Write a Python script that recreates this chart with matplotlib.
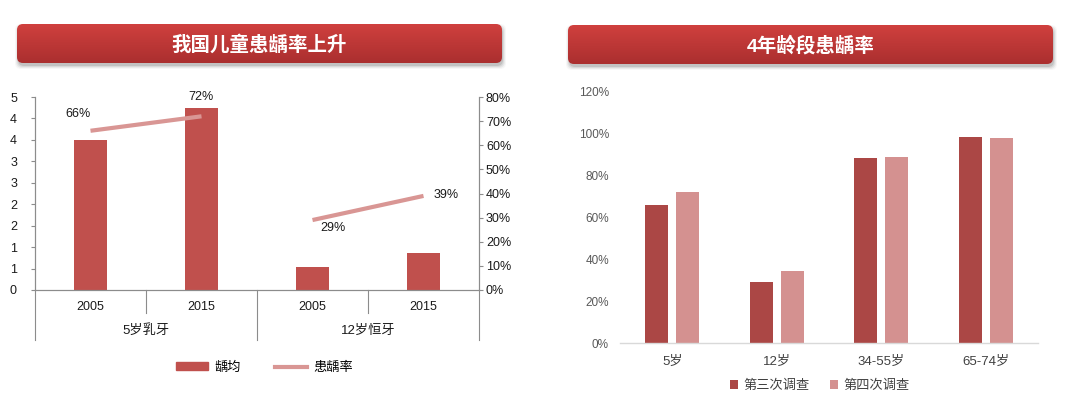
import numpy as np
import matplotlib
matplotlib.use("Agg")
import matplotlib.pyplot as plt
import matplotlib.transforms as mtransforms
from matplotlib.patches import FancyBboxPatch, Patch
from matplotlib.lines import Line2D
from matplotlib.ticker import FuncFormatter

plt.rcParams['font.family'] = ['Liberation Sans', 'Noto Sans CJK SC']

# ---- left chart data ----
left_title = "我国儿童患龋率上升"
years = ["2005", "2015", "2005", "2015"]
groups = ["5岁乳牙", "12岁恒牙"]
dmft = [3.5, 4.24, 0.54, 0.86]            # 龋均
caries_rate = [0.66, 0.72, 0.29, 0.39]     # 患龋率
rate_labels = ["66%", "72%", "29%", "39%"]
left_yticks = [0, 0.5, 1, 1.5, 2, 2.5, 3, 3.5, 4, 4.5]
left_yticklabels = ["0", "1", "1", "2", "2", "3", "3", "4", "4", "5"]
rate_yticks = [0, 0.1, 0.2, 0.3, 0.4, 0.5, 0.6, 0.7, 0.8]
left_legend = ["龋均", "患龋率"]

# ---- right chart data ----
right_title = "4年龄段患龋率"
ages = ["5岁", "12岁", "34-55岁", "65-74岁"]
third_survey = [0.66, 0.293, 0.883, 0.986]
fourth_survey = [0.723, 0.346, 0.891, 0.98]
survey_names = ["第三次调查", "第四次调查"]
right_yticks = [0, 0.2, 0.4, 0.6, 0.8, 1.0, 1.2]

W, H = 1080, 397
bar_red = '#C0504D'
line_pink = '#D99694'
dark_red = '#AB4745'
light_red = '#D49190'
axis_gray = '#8C8C8C'

fig = plt.figure(figsize=(W / 100, H / 100), dpi=100)


def px_axes(x0, y0, x1, y1):
    # axes rectangle given in pixel coords (y from top)
    return fig.add_axes([x0 / W, 1 - y1 / H, (x1 - x0) / W, (y1 - y0) / H])


def banner(x0, y0, x1, y1, text):
    m = 8
    bax = px_axes(x0 - m, y0 - m, x1 + m, y1 + m)
    bax.set_xlim(x0 - m, x1 + m)
    bax.set_ylim(y1 + m, y0 - m)
    bax.axis('off')
    w, h = x1 - x0, y1 - y0
    # soft shadow
    for grow, a in [(3, 0.03), (2, 0.05), (1, 0.07), (0, 0.1)]:
        sh = FancyBboxPatch((x0 + 1 - grow, y0 + 3 - grow), w + 2 * grow, h + 2 * grow,
                            boxstyle="round,pad=0,rounding_size=6",
                            fc='black', ec='none', alpha=a, zorder=1)
        bax.add_patch(sh)
    box = FancyBboxPatch((x0, y0), w, h, boxstyle="round,pad=0,rounding_size=6",
                         fc='none', ec='none')
    bax.add_patch(box)
    top = np.array([208, 64, 62]) / 255
    bot = np.array([170, 47, 47]) / 255
    t = np.linspace(0, 1, 64)[:, None, None]
    grad = top * (1 - t) + bot * t
    im = bax.imshow(grad, extent=(x0, x1, y1, y0), aspect='auto', origin='upper',
                    interpolation='bilinear', zorder=2)
    im.set_clip_path(box)
    bax.set_xlim(x0 - m, x1 + m)
    bax.set_ylim(y1 + m, y0 - m)
    bax.text((x0 + x1) / 2, (y0 + y1) / 2 + 1, text, color='white', fontsize=14,
             fontweight='bold', ha='center', va='center', zorder=3)


banner(17, 24, 502, 63, left_title)
banner(568, 25, 1053, 64, right_title)

# ---------------- left chart ----------------
ax = px_axes(35, 97, 479, 290)
x = np.arange(len(years))
ax.bar(x, dmft, width=0.3, color=bar_red, zorder=2)
ax.set_xlim(-0.5, len(years) - 0.5)
ax.set_ylim(0, 4.5)
ax.set_yticks(left_yticks)
ax.set_yticklabels(left_yticklabels)
ax.set_xticks(x)
ax.set_xticklabels(years)
ax.tick_params(axis='x', length=0, pad=8, labelsize=9, colors='#1a1a1a')
ax.tick_params(axis='y', length=3, width=0.8, color=axis_gray, pad=10,
               labelsize=9, labelcolor='#1a1a1a')
ax.spines['top'].set_visible(False)
for s in ['left', 'right', 'bottom']:
    ax.spines[s].set_color(axis_gray)
    ax.spines[s].set_linewidth(0.8)

ax2 = ax.twinx()
ax2.set_ylim(0, 0.8)
ax2.set_yticks(rate_yticks)
ax2.yaxis.set_major_formatter(FuncFormatter(lambda v, p: f"{v * 100:.0f}%"))
ax2.tick_params(axis='y', length=3, width=0.8, color=axis_gray, pad=2,
                labelsize=9, labelcolor='#1a1a1a')
ax2.spines['top'].set_visible(False)
for s in ['left', 'right', 'bottom']:
    ax2.spines[s].set_color(axis_gray)
    ax2.spines[s].set_linewidth(0.8)

# rate line, broken between the two groups
for i in range(0, len(x), 2):
    ax2.plot(x[i:i + 2], caries_rate[i:i + 2], color=line_pink, lw=3,
             solid_capstyle='butt', zorder=3)
offsets = [(-13, 17), (-1, 19), (20, -8), (23, 1)]
for xi, yi, lab, off in zip(x, caries_rate, rate_labels, offsets):
    ax2.annotate(lab, (xi, yi), xytext=off, textcoords='offset pixels',
                 ha='center', va='center', fontsize=9, color='#1a1a1a')

# group separators and group labels below the axis
trans = mtransforms.blended_transform_factory(ax.transData, ax.transAxes)
n_per = len(years) // len(groups)
for k in range(len(years) + 1):
    depth = -0.259 if k % n_per == 0 else -0.119
    ax.plot([k - 0.5, k - 0.5], [0, depth], transform=trans, color=axis_gray,
            lw=0.8, clip_on=False)
for g, name in enumerate(groups):
    ax.text(g * n_per + (n_per - 1) / 2, -0.212, name, transform=trans,
            ha='center', va='center', fontsize=9.5, color='#1a1a1a')

handles = [Patch(color=bar_red), Line2D([], [], color=line_pink, lw=3)]
ax.legend(handles, left_legend, loc='center', bbox_to_anchor=(0.245, 0.073),
          bbox_transform=fig.transFigure, ncol=2, frameon=False, fontsize=9.5,
          handlelength=2.4, handleheight=0.55, handletextpad=0.5, columnspacing=2.6)

# ---------------- right chart ----------------
bx = px_axes(620, 92, 1038, 343)
xr = np.arange(len(ages))
bx.bar(xr - 0.148, third_survey, width=0.22, color=dark_red, label=survey_names[0])
bx.bar(xr + 0.148, fourth_survey, width=0.22, color=light_red, label=survey_names[1])
bx.set_xlim(-0.5, len(ages) - 0.5)
bx.set_ylim(0, 1.2)
bx.set_yticks(right_yticks)
bx.yaxis.set_major_formatter(FuncFormatter(lambda v, p: f"{v * 100:.0f}%"))
bx.set_xticks(xr)
bx.set_xticklabels(ages)
bx.tick_params(axis='y', length=0, pad=8, labelsize=8.5, labelcolor='#595959')
bx.tick_params(axis='x', length=0, pad=9, labelsize=9.5, labelcolor='#404040')
for s in ['top', 'left', 'right']:
    bx.spines[s].set_visible(False)
bx.spines['bottom'].set_color('#D9D9D9')
bx.spines['bottom'].set_linewidth(1)
bx.legend(loc='center', bbox_to_anchor=(0.759, 0.028), bbox_transform=fig.transFigure,
          ncol=2, frameon=False, fontsize=9.5, handlelength=0.6, handleheight=0.6,
          handletextpad=0.4, columnspacing=1.6, labelcolor='#404040')

fig.savefig("out.png", dpi=100, facecolor='white')
